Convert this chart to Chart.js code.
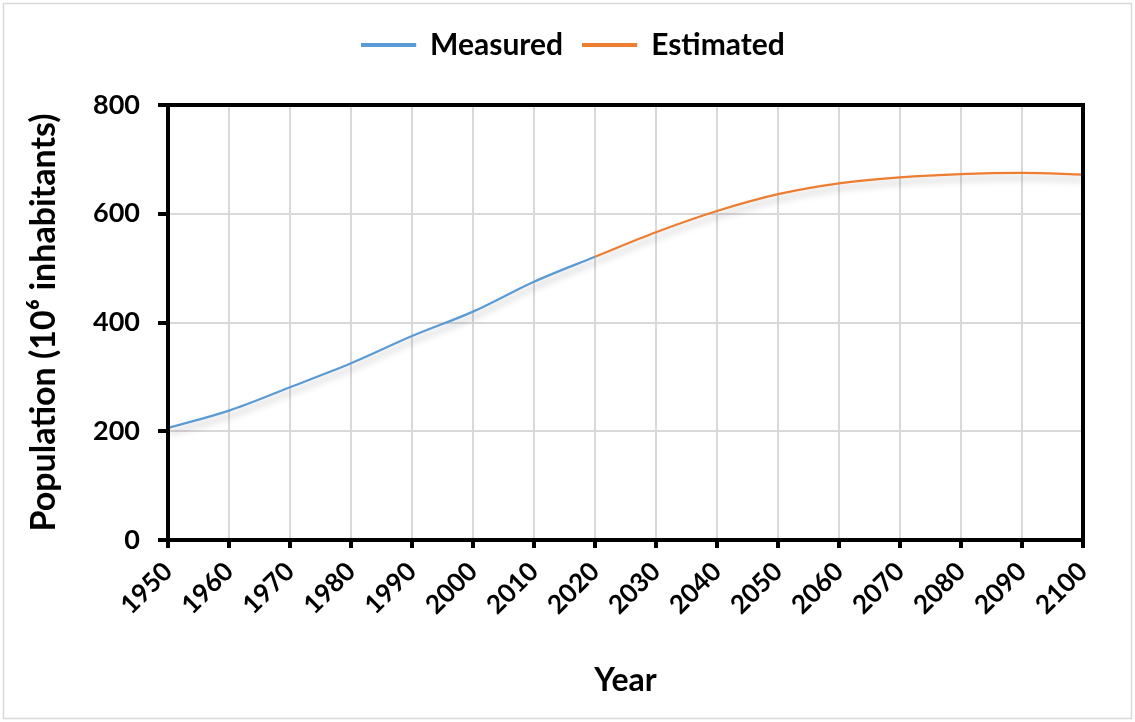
<!DOCTYPE html>
<html>
<head>
<meta charset="utf-8">
<script src="https://cdn.jsdelivr.net/npm/chart.js@4.4.1/dist/chart.umd.min.js"></script>
<style>
  html, body { margin: 0; padding: 0; background: #fff; }
  #wrap { width: 1135px; height: 722px; position: relative; }
</style>
</head>
<body>
<div id="wrap"><canvas id="chart" width="1135" height="722"></canvas></div>
<script>
// données
const measuredYears = [1950, 1960, 1970, 1980, 1990, 2000, 2010, 2020];
const measuredValues = [206, 238, 281, 325, 375, 420, 475, 521];
const estimatedYears = [2020, 2030, 2040, 2050, 2060, 2070, 2080, 2090, 2100];
const estimatedValues = [521, 566, 605, 636, 656, 667, 673, 675, 672];
const yTicks = [0, 200, 400, 600, 800];

const FONT = "Lato, 'Open Sans', sans-serif";

const toPoints = (xs, ys) => xs.map((x, i) => ({ x: x, y: ys[i] }));

// hauteur fixe de la légende + léger décalage vers la droite
const legendPlacePlugin = {
    id: 'legendPlace',
    beforeUpdate(chart) {
        const lg = chart.legend;
        if (!lg || lg._patched) return;
        const fit = lg.fit.bind(lg);
        lg.fit = function () {
            fit();
            this.height = 95;
        };
        lg._patched = true;
    },
    afterLayout(chart) {
        const lg = chart.legend;
        if (!lg) return;
        lg.left += 22;
        lg.right += 22;
    }
};

// ombre portée sous les courbes
const shadowPlugin = {
    id: 'shadow',
    beforeDatasetsDraw(chart) {
        const ctx = chart.ctx;
        ctx.save();
        ctx.shadowColor = 'rgba(0,0,0,0.28)';
        ctx.shadowBlur = 7;
        ctx.shadowOffsetX = 1;
        ctx.shadowOffsetY = 5;
    },
    afterDatasetsDraw(chart) {
        chart.ctx.restore();
    }
};

// cadre noir du graphe + bordure grise extérieure
const framePlugin = {
    id: 'frame',
    afterDraw(chart) {
        const { ctx, chartArea: a } = chart;
        ctx.save();
        ctx.strokeStyle = '#000';
        ctx.lineWidth = 4;
        ctx.strokeRect(a.left, a.top, a.right - a.left, a.bottom - a.top);
        ctx.strokeStyle = '#d9d9d9';
        ctx.lineWidth = 1.5;
        ctx.strokeRect(3.5, 3.5, chart.width - 7, chart.height - 7);
        ctx.restore();
    }
};

new Chart(document.getElementById('chart'), {
    type: 'line',
    data: {
        datasets: [
            {
                label: 'Measured',
                data: toPoints(measuredYears, measuredValues),
                borderColor: '#5B9BD5',
                backgroundColor: '#5B9BD5',
                borderWidth: 2.2,
                pointRadius: 0,
                cubicInterpolationMode: 'monotone'
            },
            {
                label: 'Estimated',
                data: toPoints(estimatedYears, estimatedValues),
                borderColor: '#ED7D31',
                backgroundColor: '#ED7D31',
                borderWidth: 2.2,
                pointRadius: 0,
                cubicInterpolationMode: 'monotone'
            }
        ]
    },
    options: {
        responsive: false,
        animation: false,
        devicePixelRatio: 1,
        layout: { padding: { left: 20, right: 52, top: 10, bottom: 18 } },
        plugins: {
            legend: {
                position: 'top',
                labels: {
                    color: '#000',
                    font: { family: FONT, size: 30, weight: 'bold' },
                    boxWidth: 53,
                    boxHeight: 2,
                    padding: 20
                }
            },
            tooltip: { enabled: false }
        },
        scales: {
            x: {
                type: 'linear',
                min: 1950,
                max: 2100,
                ticks: {
                    stepSize: 10,
                    color: '#000',
                    font: { family: FONT, size: 26, weight: 'bold' },
                    minRotation: 45,
                    maxRotation: 45,
                    padding: 8,
                    callback: v => String(v)
                },
                grid: {
                    color: '#d9d9d9',
                    lineWidth: 2,
                    tickColor: '#000',
                    tickWidth: 4,
                    tickLength: 8,
                    drawOnChartArea: true
                },
                border: { color: '#000', width: 4 },
                title: {
                    display: true,
                    text: 'Year',
                    color: '#000',
                    font: { family: FONT, size: 32, weight: 'bold' },
                    padding: { top: 8 }
                },
                afterFit: s => { s.height = 164; }
            },
            y: {
                min: 0,
                max: 800,
                afterBuildTicks: s => { s.ticks = yTicks.map(v => ({ value: v })); },
                ticks: {
                    color: '#000',
                    font: { family: FONT, size: 27, weight: 'bold' },
                    padding: 18
                },
                grid: {
                    color: '#d9d9d9',
                    lineWidth: 2,
                    tickColor: '#000',
                    tickWidth: 4,
                    tickLength: 10
                },
                border: { color: '#000', width: 4 },
                title: {
                    display: true,
                    text: 'Population (10\u2076 inhabitants)',
                    color: '#000',
                    font: { family: FONT, size: 34, weight: 'bold' },
                    padding: { bottom: 4 }
                },
                afterFit: s => { s.width = 148; }
            }
        }
    },
    plugins: [legendPlacePlugin, shadowPlugin, framePlugin]
});
</script>
</body>
</html>
